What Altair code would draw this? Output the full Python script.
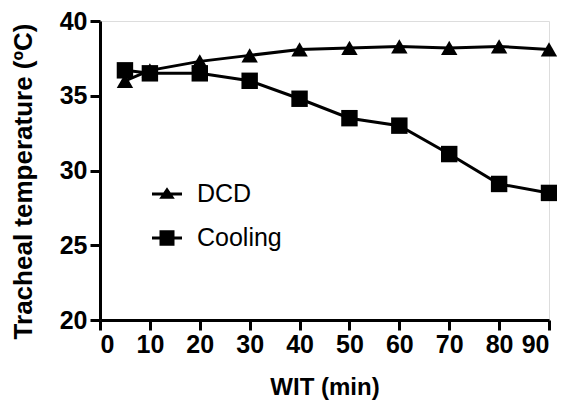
import altair as alt
import pandas as pd

wit = [5, 10, 20, 30, 40, 50, 60, 70, 80, 90]
dcd = [36.0, 36.7, 37.3, 37.7, 38.1, 38.2, 38.3, 38.2, 38.3, 38.1]
cooling = [36.7, 36.5, 36.5, 36.0, 34.8, 33.5, 33.0, 31.1, 29.1, 28.5]
series_names = ["DCD", "Cooling"]
x_ticks = [0, 10, 20, 30, 40, 50, 60, 70, 80, 90]
y_ticks = [20, 25, 30, 35, 40]

rows = []
for name, vals in zip(series_names, [dcd, cooling]):
    for x, y in zip(wit, vals):
        rows.append({"WIT": x, "Temp": y, "Group": name})
df = pd.DataFrame(rows)

FONT = "Liberation Sans"

x_enc = alt.X(
    "WIT:Q",
    scale=alt.Scale(domain=[0, 90], nice=False),
    axis=alt.Axis(
        title="WIT (min)", values=x_ticks,
        labelFontSize=25, labelFontWeight="bold", labelFont=FONT,
        titleFontSize=24, titleFontWeight="bold", titleFont=FONT,
        domainWidth=3, tickWidth=3, tickSize=10, labelPadding=2,
        domainColor="black", tickColor="black", labelColor="black", titleColor="black",
        grid=False, titleY=74, titleBaseline="alphabetic",
    ),
)
y_enc = alt.Y(
    "Temp:Q",
    scale=alt.Scale(domain=[20, 40], nice=False, zero=False),
    axis=alt.Axis(
        title="Tracheal temperature (ºC)", values=y_ticks,
        labelFontSize=25, labelFontWeight="bold", labelFont=FONT,
        titleFontSize=26, titleFontWeight="bold", titleFont=FONT,
        domainWidth=3, tickWidth=3, tickSize=10, labelPadding=3,
        domainColor="black", tickColor="black", labelColor="black", titleColor="black",
        grid=False, titleX=-69, titleY=160, titleBaseline="alphabetic",
    ),
)

base = alt.Chart(df)

lines = base.mark_line(color="black", strokeWidth=3).encode(
    x=x_enc, y=y_enc, detail="Group:N"
)

points = base.mark_point(filled=True, color="black", opacity=1, size=270).encode(
    x=x_enc, y=y_enc,
    shape=alt.Shape("Group:N", scale=alt.Scale(domain=series_names, range=["triangle-up", "square"]), legend=None),
)

tri_path = "M-1,-0.1L1,-0.1L1,0.1L-1,0.1ZM0,-0.45L0.52,0.32L-0.52,0.32Z"
sq_path = "M-1,-0.1L1,-0.1L1,0.1L-1,0.1ZM-0.5,-0.52L0.5,-0.52L0.5,0.52L-0.5,0.52Z"

legend_layer = base.transform_filter("false").mark_point(filled=True, color="black", opacity=1, size=900).encode(
    x=x_enc, y=y_enc,
    shape=alt.Shape(
        "Group:N",
        scale=alt.Scale(domain=series_names, range=[tri_path, sq_path]),
        legend=alt.Legend(
            title=None, orient="none", legendX=52, legendY=158,
            labelFont=FONT, labelFontSize=25, labelColor="black",
            labelOffset=15, rowPadding=16, padding=0,
            symbolSize=900, symbolFillColor="black", symbolStrokeWidth=0,
        ),
    ),
)

chart = alt.layer(lines, points, legend_layer).resolve_scale(shape="independent").properties(
    width=449, height=299,
    autosize=alt.AutoSizeParams(type="none"),
    padding={"left": 92, "top": 13, "right": 8, "bottom": 85},
).configure_view(stroke=None).configure(background="white")

chart.save("out.html", embed_options={"renderer": "svg", "actions": False})
